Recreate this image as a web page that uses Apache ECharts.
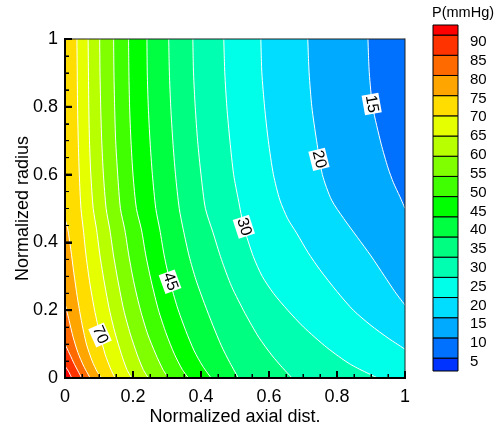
<!DOCTYPE html>
<html><head><meta charset="utf-8">
<script src="https://cdn.jsdelivr.net/npm/echarts@6/dist/echarts.min.js"></script>
<style>html,body{margin:0;padding:0;background:#fff}#c{width:497px;height:432px}</style>
</head><body><div id="c"></div>
<script>
// Contour levels (mmHg) and their lines as [axial, radius]
const levels = [15,20,25,30,35,40,45,50,55,60,65,70,75,80,85,90];
const c15 = [[0.891,1],[0.895,0.9],[0.905,0.8],[0.93,0.69],[0.95,0.62],[0.966,0.576],[0.985,0.535],[1,0.5]];
const c20 = [[0.714,1],[0.718,0.9],[0.726,0.8],[0.74,0.7],[0.757,0.6],[0.784,0.525],[0.82,0.47],[0.86,0.415],[0.9,0.36],[0.94,0.3],[0.97,0.255],[1,0.215]];
const c25 = [[0.576,1],[0.579,0.9],[0.587,0.8],[0.598,0.7],[0.613,0.6],[0.632,0.525],[0.655,0.47],[0.681,0.428],[0.715,0.37],[0.75,0.319],[0.8,0.255],[0.848,0.2],[0.9,0.155],[0.95,0.118],[1,0.085]];
const c30 = [[0.467,1],[0.47,0.9],[0.476,0.8],[0.485,0.7],[0.496,0.6],[0.51,0.525],[0.526,0.446],[0.554,0.358],[0.58,0.3],[0.613,0.25],[0.655,0.2],[0.701,0.151],[0.77,0.09],[0.84,0.04],[0.92,0]];
const c35 = [[0.376,1],[0.378,0.9],[0.383,0.8],[0.39,0.7],[0.4,0.6],[0.413,0.5],[0.435,0.43],[0.46,0.35],[0.49,0.27],[0.53,0.19],[0.57,0.12],[0.61,0.065],[0.64,0.03],[0.668,0]];
const c40 = [[0.305,1],[0.307,0.9],[0.311,0.8],[0.317,0.7],[0.325,0.6],[0.336,0.5],[0.348,0.437],[0.365,0.36],[0.385,0.29],[0.41,0.22],[0.435,0.155],[0.46,0.095],[0.485,0.045],[0.51,0]];
const c45 = [[0.241,1],[0.242,0.9],[0.245,0.8],[0.25,0.7],[0.257,0.6],[0.267,0.5],[0.279,0.437],[0.292,0.36],[0.309,0.284],[0.33,0.21],[0.355,0.14],[0.38,0.08],[0.405,0.035],[0.43,0]];
const c50 = [[0.187,1],[0.188,0.9],[0.19,0.8],[0.194,0.7],[0.2,0.6],[0.21,0.5],[0.225,0.437],[0.238,0.36],[0.255,0.28],[0.275,0.2],[0.298,0.13],[0.322,0.07],[0.345,0.025],[0.363,0]];
const c55 = [[0.143,1],[0.144,0.9],[0.146,0.8],[0.149,0.7],[0.155,0.6],[0.163,0.5],[0.176,0.437],[0.188,0.36],[0.203,0.28],[0.222,0.2],[0.243,0.13],[0.267,0.07],[0.288,0.025],[0.304,0]];
const c60 = [[0.102,1],[0.103,0.9],[0.105,0.8],[0.108,0.7],[0.113,0.6],[0.121,0.5],[0.132,0.437],[0.143,0.36],[0.157,0.28],[0.173,0.2],[0.192,0.13],[0.212,0.07],[0.23,0.025],[0.245,0]];
const c65 = [[0.068,1],[0.069,0.9],[0.07,0.8],[0.072,0.7],[0.076,0.6],[0.083,0.5],[0.093,0.437],[0.103,0.36],[0.116,0.28],[0.131,0.2],[0.148,0.13],[0.166,0.07],[0.182,0.025],[0.196,0]];
const c70 = [[0.035,1],[0.036,0.9],[0.037,0.8],[0.039,0.7],[0.042,0.6],[0.047,0.5],[0.054,0.437],[0.062,0.36],[0.073,0.28],[0.087,0.2],[0.103,0.127],[0.118,0.07],[0.133,0.03],[0.147,0]];
const c75 = [[0,0.47],[0.008,0.44],[0.017,0.38],[0.026,0.31],[0.036,0.24],[0.048,0.17],[0.063,0.1],[0.08,0.05],[0.095,0.018],[0.108,0]];
const c80 = [[0,0.22],[0.012,0.17],[0.024,0.12],[0.038,0.075],[0.055,0.035],[0.074,0]];
const c85 = [[0,0.1],[0.014,0.07],[0.028,0.04],[0.049,0]];
const c90 = [[0,0.035],[0.01,0.02],[0.02,0]];
const contourLines = [c15,c20,c25,c30,c35,c40,c45,c50,c55,c60,c65,c70,c75,c80,c85,c90];

// Colour bar: band boundaries (bottom to top) and colours of each band
const cbBounds = [6.8,10,15,20,25,30,35,40,45,50,55,60,65,70,75,80,85,90,92.5];
const cbColors = ['#0033ff','#0070ff','#00aaff','#00ddff','#00ffe8','#00ffb0','#00ff80','#00ff40','#00ff00','#40ff00','#80ff00','#b8ff00','#e5ff00','#ffdd00','#ffa500','#ff6a00','#ff3300','#ff0000'];
const cbTicks = [5,10,15,20,25,30,35,40,45,50,55,60,65,70,75,80,85,90];

// Axis ticks (both axes)
const majorTicks = [0,0.2,0.4,0.6,0.8,1];

// Inline contour labels
const labelText = ['15','20','30','45','70'];
const labelX = [0.902,0.747,0.526,0.309,0.103];
const labelY = [0.808,0.645,0.446,0.284,0.127];
const labelRotate = [-80,-76,-72,-70,-66];

const FONT = '"Liberation Sans", Arial, sans-serif';
const SMOOTH = 0.25;
const chart = echarts.init(document.getElementById('c'), null, {renderer:'canvas'});

const minorTicks = [];
for (let i = 0; i < majorTicks.length - 1; i++) {
  const a = majorTicks[i], b = majorTicks[i+1];
  for (let k = 1; k < 4; k++) minorTicks.push(a + (b - a) * k / 4);
}

const series = [];
series.push({
  type:'line', xAxisIndex:0, yAxisIndex:0, data:[[0,1],[1,1]], symbol:'none', silent:true,
  lineStyle:{width:0}, areaStyle:{color:cbColors[1], opacity:1}, z:-3
});
levels.forEach((L,i)=>{
  const pts = contourLines[i];
  const poly = pts[0][1] === 1 ? [[0,1]].concat(pts) : pts.slice();
  series.push({
    type:'line', xAxisIndex:0, yAxisIndex:0, data:poly, symbol:'none', silent:true, smooth:SMOOTH,
    lineStyle:{width:0}, areaStyle:{color:cbColors[cbBounds.indexOf(L)], opacity:1}, z:-3
  });
});
levels.forEach((L,i)=>{
  series.push({
    type:'line', xAxisIndex:0, yAxisIndex:0, data:contourLines[i], symbol:'none', silent:true, smooth:SMOOTH,
    lineStyle:{width:1, color:'#ffffff'}, z:-2
  });
});
// overlay: inline labels (items 0..4) and the axis frame with ticks (item -1)
const overlayData = labelText.map((t,i)=>[labelX[i], labelY[i], i]);
overlayData.push([0, 0, -1]);
series.push({
  type:'custom', xAxisIndex:0, yAxisIndex:0, silent:true, z:3,
  data: overlayData,
  renderItem:(params, api)=>{
    const i = api.value(2);
    if (i >= 0) {
      const p = api.coord([api.value(0), api.value(1)]);
      return {type:'text', x:p[0], y:p[1], rotation:labelRotate[i]*Math.PI/180,
        style:{text:labelText[i], fill:'#000', font:'16px '+FONT, align:'center', verticalAlign:'middle',
          backgroundColor:'#fff', padding:[1,1,0,1]}};
    }
    const o = api.coord([0,0]), t = api.coord([1,1]);
    const ch = [];
    const rect = (x, y, w, h, c) => ch.push({type:'rect', shape:{x:x, y:y, width:w, height:h}, style:{fill:c||'#000'}});
    rect(t[0]-0.5, t[1]-0.5, 1, o[1]-t[1]+1, '#222');
    rect(o[0], t[1]-0.5, t[0]-o[0], 1, '#222');
    rect(o[0]-1, t[1]-1, 2, o[1]-t[1]+2);
    rect(o[0]-1, o[1]-1, t[0]-o[0]+2, 2);
    majorTicks.forEach(v=>{
      const px = api.coord([v,0]); rect(px[0]-1, o[1]-7, 2, 7);
      const py = api.coord([0,v]); rect(o[0], py[1]-1, 7, 2);
    });
    minorTicks.forEach(v=>{
      const px = api.coord([v,0]); rect(px[0]-0.5, o[1]-4, 1, 4);
      const py = api.coord([0,v]); rect(o[0], py[1]-0.5, 4, 1);
    });
    return {type:'group', children:ch};
  }
});
// colour bar boxes
series.push({
  type:'custom', xAxisIndex:1, yAxisIndex:1, silent:true, clip:false,
  data: cbColors.map((c,i)=>[cbBounds[i], cbBounds[i+1], i]),
  renderItem:(params, api)=>{
    const p1 = api.coord([0, api.value(1)]);
    const p2 = api.coord([1, api.value(0)]);
    return {type:'rect', shape:{x:p1[0], y:p1[1], width:p2[0]-p1[0], height:p2[1]-p1[1]},
      style:{fill:cbColors[api.value(2)], stroke:'#000', lineWidth:1}};
  }
});

const axisCommon = {
  axisLine:{show:true, onZero:false, lineStyle:{color:'#000', width:2}},
  axisTick:{show:true, inside:true, length:7, lineStyle:{color:'#000', width:2}},
  minorTick:{show:true, splitNumber:4, length:4, lineStyle:{color:'#000', width:1}},
  splitLine:{show:false}
};
chart.setOption({
  animation:false,
  backgroundColor:'#fff',
  textStyle:{fontFamily:FONT},
  grid:[
    {left:65, top:39, width:340, height:339, outerBoundsMode:'none', containLabel:false},
    {left:433, top:25, width:25, height:346, outerBoundsMode:'none', containLabel:false}
  ],
  xAxis:[
    Object.assign({type:'value', gridIndex:0, min:0, max:1, interval:0.2,
     name:'Normalized axial dist.', nameLocation:'middle', nameGap:30, nameMoveOverlap:false,
     nameTextStyle:{fontSize:18, color:'#000', fontFamily:FONT},
     axisLabel:{fontSize:18, color:'#000', margin:10, fontFamily:FONT}}, axisCommon),
    {type:'value', gridIndex:1, min:0, max:1, show:false}
  ],
  yAxis:[
    Object.assign({type:'value', gridIndex:0, min:0, max:1, interval:0.2,
     name:'Normalized radius', nameLocation:'middle', nameGap:33, nameMoveOverlap:false,
     nameTextStyle:{fontSize:18, color:'#000', fontFamily:FONT},
     axisLabel:{fontSize:18, color:'#000', margin:7, fontFamily:FONT}}, axisCommon),
    {type:'value', gridIndex:1, min:cbBounds[0], max:cbBounds[cbBounds.length-1], show:false},
    {type:'value', gridIndex:1, position:'right', min:2.61, max:94.52,
     axisLine:{show:false}, axisTick:{show:false}, splitLine:{show:false},
     axisLabel:{show:true, customValues:cbTicks, fontSize:15, color:'#000', margin:12, fontFamily:FONT}}
  ],
  graphic:[
    {type:'text', left:432, top:5, style:{text:'P(mmHg)', fontSize:14.5, fill:'#000', fontFamily:FONT}}
  ],
  series: series
});
</script></body></html>
